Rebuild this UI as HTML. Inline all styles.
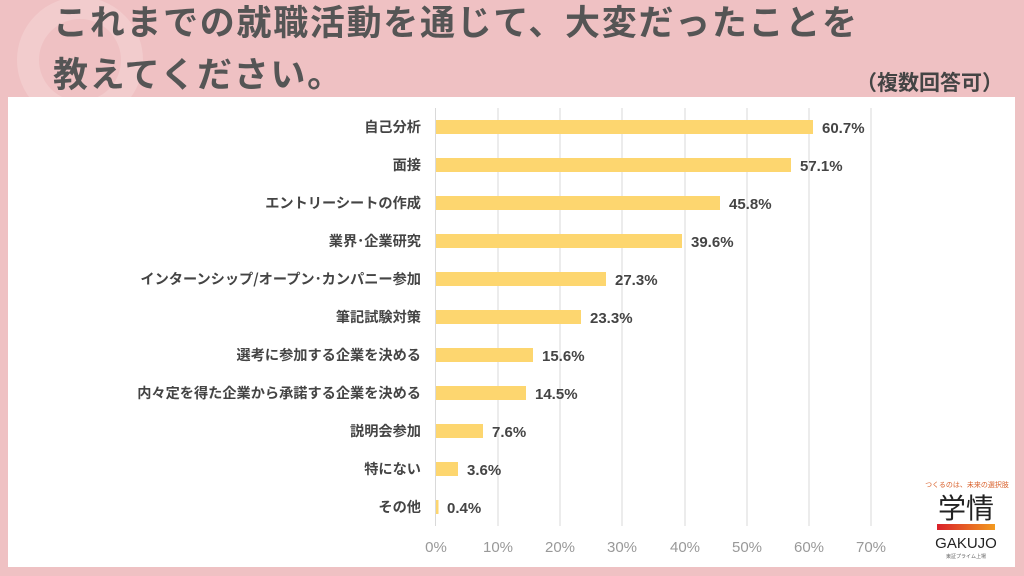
<!DOCTYPE html><html><head><meta charset="utf-8"><style>
body{margin:0;width:1024px;height:576px;overflow:hidden;background:#efc1c3;font-family:"Liberation Sans","Noto Sans CJK JP",sans-serif;}
</style></head><body>
<svg width="1024" height="576" xmlns="http://www.w3.org/2000/svg" style="position:absolute;left:0;top:0">
<circle cx="80" cy="60" r="52" fill="none" stroke="#f2cccd" stroke-width="22"/>
<text x="53" y="35" font-size="35" font-weight="bold" fill="#555" font-family="Noto Sans CJK JP,sans-serif" letter-spacing="1.7">これまでの就職活動を通じて、大変だったことを</text>
<text x="53" y="87" font-size="35" font-weight="bold" fill="#555" font-family="Noto Sans CJK JP,sans-serif" letter-spacing="1.7">教えてください。</text>
<text x="1003" y="90" font-size="21" font-weight="bold" fill="#444" text-anchor="end" font-family="Noto Sans CJK JP,sans-serif">（複数回答可）</text>
<rect x="8" y="97" width="1007" height="470" fill="#fff"/>
<g stroke="#d9d9d9" stroke-width="1">
<line x1="435.5" y1="108" x2="435.5" y2="526"/><line x1="498" y1="108" x2="498" y2="526"/><line x1="560" y1="108" x2="560" y2="526"/><line x1="622" y1="108" x2="622" y2="526"/><line x1="685" y1="108" x2="685" y2="526"/><line x1="747" y1="108" x2="747" y2="526"/><line x1="809" y1="108" x2="809" y2="526"/><line x1="871" y1="108" x2="871" y2="526"/>
</g>
<g font-size="15" fill="#999" text-anchor="middle">
<text x="436" y="552">0%</text><text x="498" y="552">10%</text><text x="560" y="552">20%</text><text x="622" y="552">30%</text><text x="685" y="552">40%</text><text x="747" y="552">50%</text><text x="809" y="552">60%</text><text x="871" y="552">70%</text>
</g>
<g fill="#fdd66f">
<rect x="436" y="120" width="377" height="14"/>
<rect x="436" y="158" width="355" height="14"/>
<rect x="436" y="196" width="284" height="14"/>
<rect x="436" y="234" width="246" height="14"/>
<rect x="436" y="272" width="170" height="14"/>
<rect x="436" y="310" width="145" height="14"/>
<rect x="436" y="348" width="97" height="14"/>
<rect x="436" y="386" width="90" height="14"/>
<rect x="436" y="424" width="47" height="14"/>
<rect x="436" y="462" width="22" height="14"/>
<rect x="436" y="500" width="2.5" height="14"/>
</g>
<g font-size="15" font-weight="bold" fill="#444">
<text x="822" y="133">60.7%</text><text x="800" y="171">57.1%</text><text x="729" y="209">45.8%</text><text x="691" y="247">39.6%</text><text x="615" y="285">27.3%</text><text x="590" y="323">23.3%</text><text x="542" y="361">15.6%</text><text x="535" y="399">14.5%</text><text x="492" y="437">7.6%</text><text x="467" y="475">3.6%</text><text x="447" y="513">0.4%</text>
</g>
<g font-size="14.2" font-weight="bold" fill="#444" text-anchor="end" font-family="Noto Sans CJK JP,sans-serif">
<text x="421" y="132">自己分析</text><text x="421" y="170">面接</text><text x="421" y="208">エントリーシートの作成</text><text x="421" y="246">業界･企業研究</text><text x="421" y="284">インターンシップ/オープン･カンパニー参加</text><text x="421" y="322">筆記試験対策</text><text x="421" y="360">選考に参加する企業を決める</text><text x="421" y="398">内々定を得た企業から承諾する企業を決める</text><text x="421" y="436">説明会参加</text><text x="421" y="474">特にない</text><text x="421" y="512">その他</text>
</g>
<text x="967" y="487" font-size="7" fill="#d9602a" text-anchor="middle" font-family="Noto Sans CJK JP,sans-serif">つくるのは、未来の選択肢</text>
<text x="966" y="518" font-size="28" fill="#222" text-anchor="middle" font-family="Noto Sans CJK JP,sans-serif">学情</text>
<defs><linearGradient id="g" x1="0" x2="1"><stop offset="0" stop-color="#d9202a"/><stop offset="1" stop-color="#f29a1f"/></linearGradient></defs>
<rect x="937" y="524" width="58" height="6" fill="url(#g)"/>
<text x="966" y="548" font-size="15" fill="#222" text-anchor="middle">GAKUJO</text>
<text x="966" y="558" font-size="5" fill="#666" text-anchor="middle" font-family="Noto Sans CJK JP,sans-serif">東証プライム上場</text>
</svg>
</body></html>
